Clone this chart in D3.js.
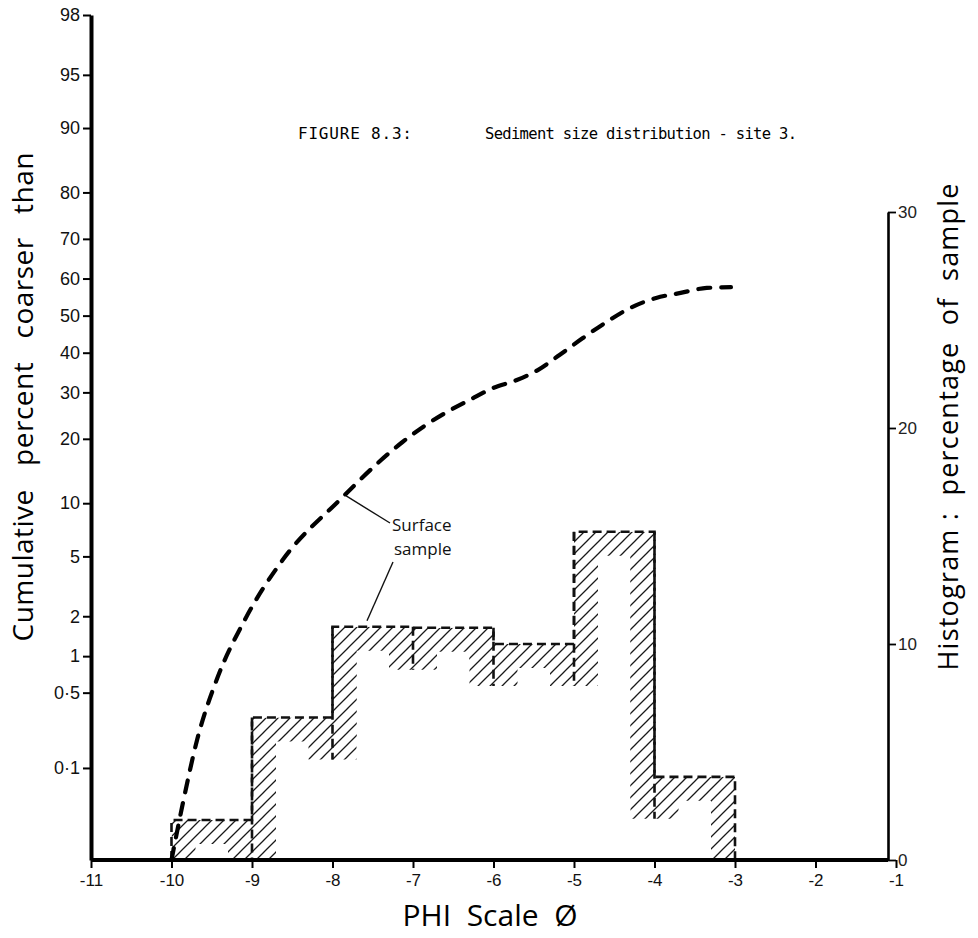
<!DOCTYPE html>
<html>
<head>
<meta charset="utf-8">
<script src="https://cdnjs.cloudflare.com/ajax/libs/d3/7.8.5/d3.min.js"></script>
<style>
  body { margin: 0; background: #fff; }
  svg { display: block; }
</style>
</head>
<body>
<svg id="chart" width="978" height="938"></svg>
<script>
// histogram: phi classes (lower bound) and percentage of sample (right axis)
const binStart = [-10, -9, -8, -7, -6, -5, -4];
const binPct = [1.85, 6.6, 10.8, 10.75, 10.0, 15.2, 3.85];

// cumulative curve (percent coarser than)
const curvePhi = [-10, -9.85, -9.68, -9.44, -9.09, -8.62, -7.91, -7.42, -7.13,
  -6.88, -6.58, -6.3, -6.01, -5.71, -5.45, -5.18, -4.89, -4.6, -4.31, -3.98, -3.69, -3.35, -3.05];
const curvePct = [0.01, 0.047, 0.19, 0.64, 1.88, 4.75, 10.4, 15.9, 19.4,
  22.3, 25.5, 28.2, 31, 33, 35.5, 39.4, 43.9, 48.2, 52, 54.8, 56.1, 57.5, 57.7];

// tick values and labels
const phiTicks = [-11, -10, -9, -8, -7, -6, -5, -4, -3, -2, -1];
const cumTicks = [0.1, 0.5, 1, 2, 5, 10, 20, 30, 40, 50, 60, 70, 80, 90, 95, 98];
const cumTickLabels = ["0·1", "0·5", "1", "2", "5", "10", "20", "30", "40", "50", "60", "70", "80", "90", "95", "98"];
const histTicks = [0, 10, 20, 30];

// inverse normal cdf (Acklam) - the left axis is on probability paper
function probit(p) {
  const a = [-3.969683028665376e+01, 2.209460984245205e+02, -2.759285104469687e+02, 1.383577518672690e+02, -3.066479806614716e+01, 2.506628277459239e+00];
  const b = [-5.447609879822406e+01, 1.615858368580409e+02, -1.556989798598866e+02, 6.680131188771972e+01, -1.328068155288572e+01];
  const c = [-7.784894002430293e-03, -3.223964580411365e-01, -2.400758277161838e+00, -2.549732539343734e+00, 4.374664141464968e+00, 2.938163982698783e+00];
  const d = [7.784695709041462e-03, 3.224671290700398e-01, 2.445134137142996e+00, 3.754408661907416e+00];
  const pl = 0.02425;
  let q, r;
  if (p < pl) {
    q = Math.sqrt(-2 * Math.log(p));
    return (((((c[0]*q+c[1])*q+c[2])*q+c[3])*q+c[4])*q+c[5]) / ((((d[0]*q+d[1])*q+d[2])*q+d[3])*q+1);
  }
  if (p > 1 - pl) {
    q = Math.sqrt(-2 * Math.log(1 - p));
    return -(((((c[0]*q+c[1])*q+c[2])*q+c[3])*q+c[4])*q+c[5]) / ((((d[0]*q+d[1])*q+d[2])*q+d[3])*q+1);
  }
  q = p - 0.5; r = q * q;
  return (((((a[0]*r+a[1])*r+a[2])*r+a[3])*r+a[4])*r+a[5])*q / (((((b[0]*r+b[1])*r+b[2])*r+b[3])*r+b[4])*r+1);
}

const svg = d3.select("#chart");
const x = d3.scaleLinear().domain([-11, -1]).range([91, 896]);
const yZ = d3.scaleLinear().domain([probit(0.0001), probit(0.98)]).range([860, 15]);
const yCum = p => yZ(probit(p / 100));
const yH = d3.scaleLinear().domain([0, 30]).range([860, 212]);
const rightAxisX = 888;
const band = 24;      // width of hatched band inside the outline
const dash = "9,5";

// ---- histogram
let open = `M${x(binStart[0])},${yH(0)}`;
binStart.forEach((b, i) => { open += `V${yH(binPct[i])}H${x(b + 1)}`; });
open += `V${yH(0)}`;
const closed = open + "Z";

// inner class boundaries: dashed line runs a little below the lower bar top
const inner = binStart.slice(1).map((b, i) => {
  const yA = yH(binPct[i]), yB = yH(binPct[i + 1]);
  return { x: x(b), top: Math.min(yA, yB), bottom: Math.min(yH(0), Math.max(yA, yB) + 42) };
});

const defs = svg.append("defs");
defs.append("pattern").attr("id", "hatch").attr("patternUnits", "userSpaceOnUse")
  .attr("width", 12).attr("height", 12)
  .append("path").attr("d", "M-3,3L3,-3M0,12L12,0M9,15L15,9")
  .attr("stroke", "#1a1a1a").attr("stroke-width", 1.3);

defs.append("clipPath").attr("id", "sil").append("path").attr("d", closed);

const mask = defs.append("mask").attr("id", "band").attr("maskUnits", "userSpaceOnUse")
  .attr("x", 0).attr("y", 0).attr("width", 978).attr("height", 938);
mask.append("path").attr("d", open).attr("fill", "none")
  .attr("stroke", "#fff").attr("stroke-width", band * 2).attr("stroke-linejoin", "miter");
mask.selectAll("line").data(inner).join("line")
  .attr("x1", d => d.x).attr("x2", d => d.x).attr("y1", d => d.top).attr("y2", d => d.bottom)
  .attr("stroke", "#fff").attr("stroke-width", band * 2);

svg.append("path").attr("d", closed).attr("fill", "url(#hatch)")
  .attr("clip-path", "url(#sil)").attr("mask", "url(#band)");

svg.append("path").attr("d", open).attr("fill", "none")
  .attr("stroke", "#111").attr("stroke-width", 2.6).attr("stroke-dasharray", dash);
svg.selectAll("line.inner").data(inner).join("line").attr("class", "inner")
  .attr("x1", d => d.x).attr("x2", d => d.x).attr("y1", d => d.top).attr("y2", d => d.bottom)
  .attr("stroke", "#111").attr("stroke-width", 2.6).attr("stroke-dasharray", dash);

// ---- cumulative curve
const line = d3.line().x(d => x(d[0])).y(d => yCum(d[1])).curve(d3.curveMonotoneX);
svg.append("path").datum(d3.zip(curvePhi, curvePct)).attr("d", line)
  .attr("fill", "none").attr("stroke", "#000").attr("stroke-width", 4.2)
  .attr("stroke-linecap", "round").attr("stroke-dasharray", "12,11");

// ---- axes
const tickFont = "'Liberation Sans', Arial, sans-serif";

const gLeft = svg.append("g").attr("transform", `translate(${x(-11)},0)`)
  .call(d3.axisLeft(yZ).tickValues(cumTicks.map(p => probit(p / 100)))
    .tickFormat((d, i) => cumTickLabels[i]).tickSize(8).tickPadding(3).tickSizeOuter(0));
gLeft.select(".domain").attr("stroke", "#000").attr("stroke-width", 4);
gLeft.selectAll(".tick line").attr("stroke-width", 2);
gLeft.selectAll(".tick text").attr("font-family", tickFont).attr("font-size", 18).attr("fill", "#111");

const gX = svg.append("g").attr("transform", `translate(0,${yH(0)})`)
  .call(d3.axisBottom(x).tickValues(phiTicks).tickFormat(d => "-" + Math.abs(d)).tickSize(8).tickPadding(6));
gX.select(".domain").remove();
gX.selectAll(".tick line").attr("stroke-width", 2);
gX.selectAll(".tick text").attr("font-family", tickFont).attr("font-size", 17).attr("fill", "#111");
svg.append("line").attr("x1", x(-11)).attr("x2", rightAxisX).attr("y1", yH(0)).attr("y2", yH(0))
  .attr("stroke", "#000").attr("stroke-width", 4);

const gRight = svg.append("g").attr("transform", `translate(${rightAxisX},0)`)
  .call(d3.axisRight(yH).tickValues(histTicks).tickSize(8).tickPadding(2).tickSizeOuter(0));
gRight.select(".domain").attr("stroke", "#000").attr("stroke-width", 2.6);
gRight.selectAll(".tick line").attr("stroke-width", 1.8);
gRight.selectAll(".tick text").attr("font-family", tickFont).attr("font-size", 17).attr("fill", "#222");

// ---- titles and labels
const labelFont = "'Open Sans', 'Noto Sans', sans-serif";

svg.append("text").attr("transform", "translate(33,397) rotate(-90)")
  .attr("text-anchor", "middle").attr("font-family", labelFont).attr("font-size", 28)
  .attr("textLength", 489).attr("lengthAdjust", "spacing").style("white-space", "pre")
  .text("Cumulative   percent   coarser   than");

svg.append("text").attr("transform", "translate(958,427) rotate(-90)")
  .attr("text-anchor", "middle").attr("font-family", labelFont).attr("font-size", 27)
  .attr("textLength", 487).attr("lengthAdjust", "spacing").style("white-space", "pre")
  .text("Histogram :  percentage  of  sample");

svg.append("text").attr("x", 490).attr("y", 926).attr("text-anchor", "middle")
  .attr("font-family", labelFont).attr("font-size", 30).style("white-space", "pre")
  .text("PHI  Scale  Ø");

const monoFont = "'DejaVu Sans Mono', 'Liberation Mono', monospace";
svg.append("text").attr("x", 298).attr("y", 139).attr("font-family", monoFont).attr("font-size", 16)
  .attr("textLength", 114).attr("lengthAdjust", "spacing").text("FIGURE 8.3:");
svg.append("text").attr("x", 485).attr("y", 139).attr("font-family", monoFont).attr("font-size", 15.5)
  .attr("textLength", 312).attr("lengthAdjust", "spacing").text("Sediment size distribution - site 3.");

// ---- "Surface sample" annotation
const ann = svg.append("g").attr("font-family", labelFont).attr("font-size", 17).attr("fill", "#111");
ann.append("text").attr("x", 392).attr("y", 531).text("Surface");
ann.append("text").attr("x", 394).attr("y", 555).text("sample");
svg.append("line").attr("x1", x(-7.83)).attr("y1", yCum(10.9)).attr("x2", 390).attr("y2", 523)
  .attr("stroke", "#111").attr("stroke-width", 1.4);
svg.append("line").attr("x1", 393).attr("y1", 562).attr("x2", 367).attr("y2", yH(binPct[2]) - 6)
  .attr("stroke", "#111").attr("stroke-width", 1.4);
</script>
</body>
</html>
